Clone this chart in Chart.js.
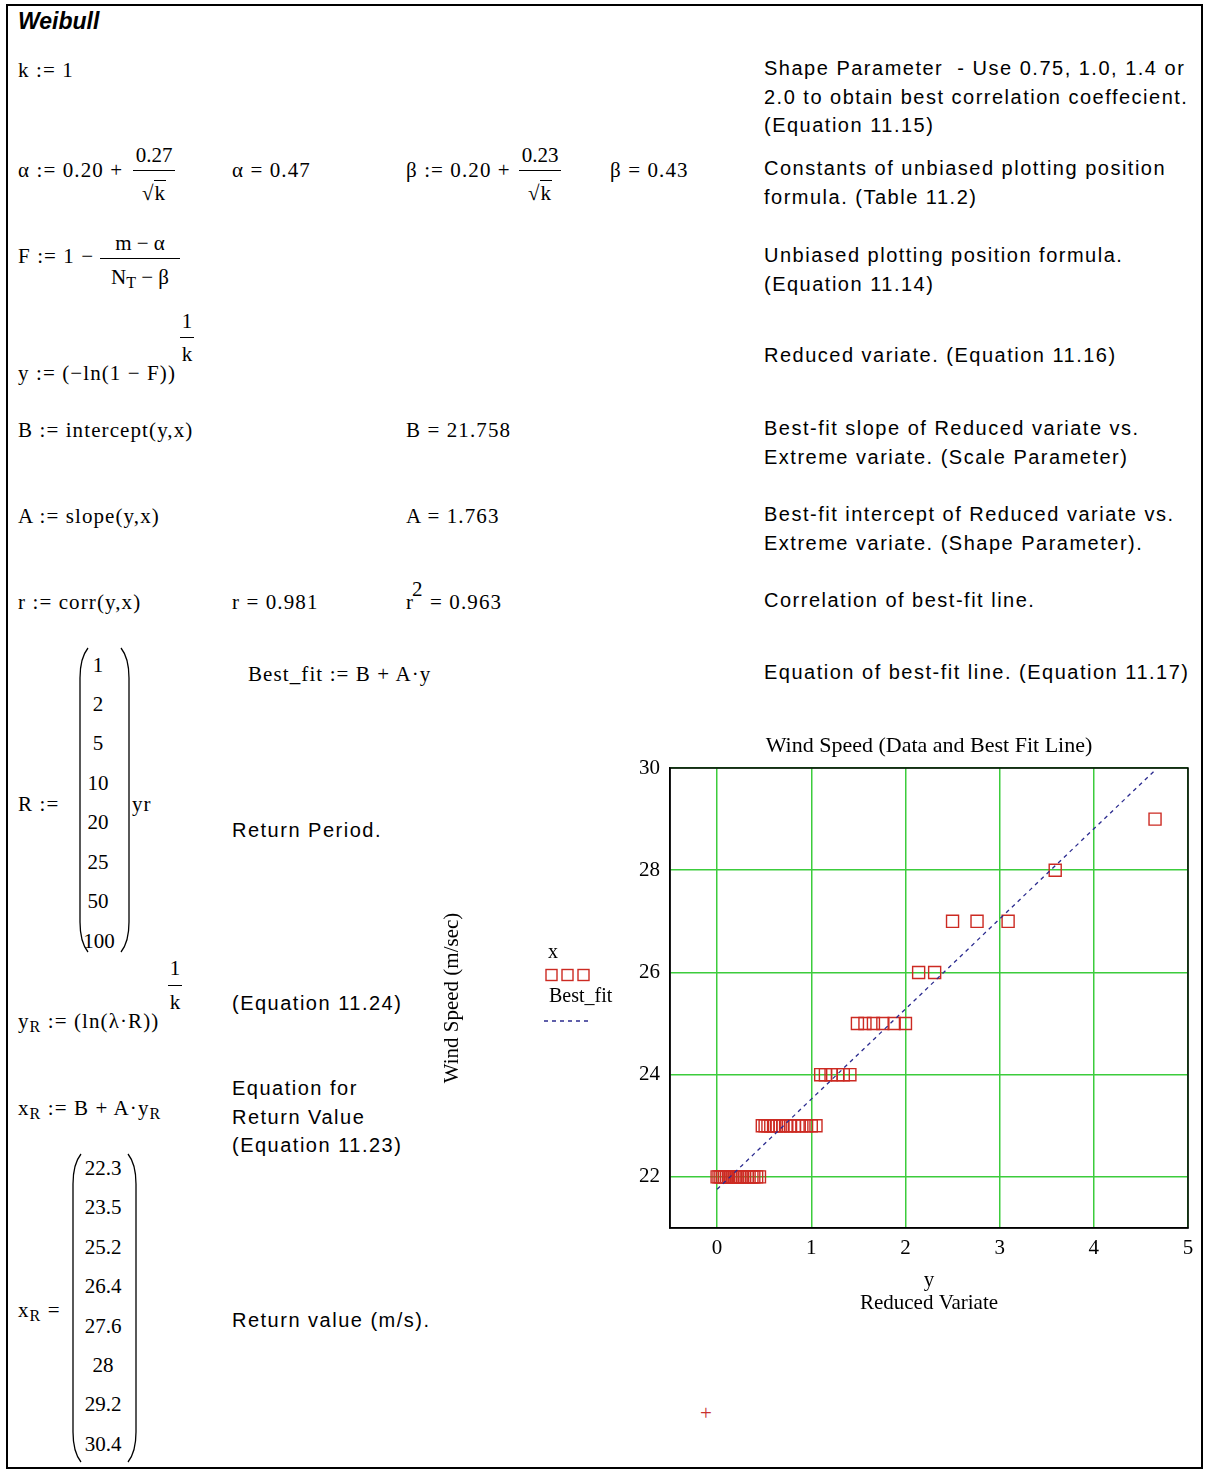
<!DOCTYPE html>
<html>
<head>
<meta charset="utf-8">
<title>Weibull</title>
<script src="https://cdn.jsdelivr.net/npm/chart.js@4.4.1/dist/chart.umd.min.js"></script>
<style>
  body { margin: 0; background: #fff; }
  #sheet { position: relative; width: 1207px; height: 1475px; overflow: hidden; background: #fff; }
  #frame { position: absolute; left: 6px; top: 4px; width: 1197px; height: 1465px; border: 2px solid #000; box-sizing: border-box; }
  .m { position: absolute; font-family: 'Liberation Serif', 'Times New Roman', serif; font-size: 21px; line-height: 24px; letter-spacing: 1.1px; white-space: nowrap; color: #000; }
  .t { position: absolute; font-family: 'Liberation Sans', Arial, sans-serif; font-size: 20px; line-height: 28.5px; letter-spacing: 1.5px; white-space: nowrap; color: #000; }
  .bar { position: absolute; height: 0; border-top: 1.3px solid #000; }
  .c { text-align: center; letter-spacing: 0; }
  .sub { font-size: 16px; position: relative; top: 4px; }
  .rad { border-top: 1.3px solid #000; padding: 0 1px; }
  #head { position: absolute; left: 18px; top: 8px; font-family: 'Liberation Sans', Arial, sans-serif; font-weight: bold; font-style: italic; font-size: 23px; }
  svg.paren { position: absolute; overflow: visible; }
  #plot { position: absolute; left: 430px; top: 725px; }
</style>
</head>
<body>
<div id="sheet">
  <div id="frame"></div>
  <div id="head">Weibull</div>

  <!-- worksheet definitions -->
  <div class="m" style="left:18px;top:58px">k := 1</div>

  <div class="m" style="left:18px;top:158px">α := 0.20 +</div>
  <div class="m c" style="left:132px;top:143px;width:44px">0.27</div>
  <div class="bar" style="left:133px;top:170px;width:42px"></div>
  <div class="m c" style="left:132px;top:181px;width:44px">√<span class="rad">k</span></div>
  <div class="m" style="left:232px;top:158px">α = 0.47</div>

  <div class="m" style="left:406px;top:158px">β := 0.20 +</div>
  <div class="m c" style="left:518px;top:143px;width:44px">0.23</div>
  <div class="bar" style="left:519px;top:170px;width:42px"></div>
  <div class="m c" style="left:518px;top:181px;width:44px">√<span class="rad">k</span></div>
  <div class="m" style="left:610px;top:158px">β = 0.43</div>

  <div class="m" style="left:18px;top:244px">F := 1 −</div>
  <div class="m c" style="left:100px;top:231px;width:80px">m − α</div>
  <div class="bar" style="left:100px;top:258px;width:80px"></div>
  <div class="m c" style="left:100px;top:265px;width:80px">N<span class="sub">T</span> − β</div>

  <div class="m" style="left:18px;top:361px">y := (−ln(1 − F))</div>
  <div class="m c" style="left:178px;top:309px;width:18px">1</div>
  <div class="bar" style="left:180px;top:337px;width:14px"></div>
  <div class="m c" style="left:178px;top:342px;width:18px">k</div>

  <div class="m" style="left:18px;top:418px">B := intercept(y,x)</div>
  <div class="m" style="left:406px;top:418px">B = 21.758</div>
  <div class="m" style="left:18px;top:504px">A := slope(y,x)</div>
  <div class="m" style="left:406px;top:504px">A = 1.763</div>
  <div class="m" style="left:18px;top:590px">r := corr(y,x)</div>
  <div class="m" style="left:232px;top:590px">r = 0.981</div>
  <div class="m" style="left:406px;top:590px">r<span style="position:relative;top:-13px;margin-left:-2px">2</span> = 0.963</div>

  <div class="m" style="left:248px;top:662px">Best_fit := B + A·y</div>

  <div class="m" style="left:18px;top:792px">R :=</div>
  <svg class="paren" style="left:79px;top:648px" width="10" height="304"><path d="M9 0 Q1 10 1 30 L1 274 Q1 294 9 304" fill="none" stroke="#000" stroke-width="1.3"/></svg>
  <svg class="paren" style="left:120px;top:648px" width="10" height="304"><path d="M1 0 Q9 10 9 30 L9 274 Q9 294 1 304" fill="none" stroke="#000" stroke-width="1.3"/></svg>
  <div class="m c" style="left:80px;top:653px;width:36px">1</div>
  <div class="m c" style="left:80px;top:692px;width:36px">2</div>
  <div class="m c" style="left:80px;top:731px;width:36px">5</div>
  <div class="m c" style="left:80px;top:771px;width:36px">10</div>
  <div class="m c" style="left:80px;top:810px;width:36px">20</div>
  <div class="m c" style="left:80px;top:850px;width:36px">25</div>
  <div class="m c" style="left:80px;top:889px;width:36px">50</div>
  <div class="m c" style="left:81px;top:929px;width:36px">100</div>
  <div class="m" style="left:132px;top:792px">yr</div>

  <div class="m" style="left:18px;top:1009px">y<span class="sub">R</span> := (ln(λ·R))</div>
  <div class="m c" style="left:166px;top:956px;width:18px">1</div>
  <div class="bar" style="left:168px;top:985px;width:14px"></div>
  <div class="m c" style="left:166px;top:990px;width:18px">k</div>

  <div class="m" style="left:18px;top:1096px">x<span class="sub">R</span> := B + A·y<span class="sub">R</span></div>

  <div class="m" style="left:18px;top:1298px">x<span class="sub">R</span> =</div>
  <svg class="paren" style="left:72px;top:1154px" width="10" height="308"><path d="M9 0 Q1 10 1 30 L1 278 Q1 298 9 308" fill="none" stroke="#000" stroke-width="1.3"/></svg>
  <svg class="paren" style="left:127px;top:1154px" width="10" height="308"><path d="M1 0 Q9 10 9 30 L9 278 Q9 298 1 308" fill="none" stroke="#000" stroke-width="1.3"/></svg>
  <div class="m c" style="left:80px;top:1156px;width:46px">22.3</div>
  <div class="m c" style="left:80px;top:1195px;width:46px">23.5</div>
  <div class="m c" style="left:80px;top:1235px;width:46px">25.2</div>
  <div class="m c" style="left:80px;top:1274px;width:46px">26.4</div>
  <div class="m c" style="left:80px;top:1314px;width:46px">27.6</div>
  <div class="m c" style="left:80px;top:1353px;width:46px">28</div>
  <div class="m c" style="left:80px;top:1392px;width:46px">29.2</div>
  <div class="m c" style="left:80px;top:1432px;width:46px">30.4</div>

  <!-- notes -->
  <div class="t" style="left:232px;top:816px">Return Period.</div>
  <div class="t" style="left:232px;top:989px">(Equation 11.24)</div>
  <div class="t" style="left:232px;top:1074px">Equation for<br>Return Value<br>(Equation 11.23)</div>
  <div class="t" style="left:232px;top:1306px">Return value (m/s).</div>

  <div class="t" style="left:764px;top:54px">Shape Parameter&nbsp; - Use 0.75, 1.0, 1.4 or<br>2.0 to obtain best correlation coeffecient.<br>(Equation 11.15)</div>
  <div class="t" style="left:764px;top:154px">Constants of unbiased plotting position<br>formula. (Table 11.2)</div>
  <div class="t" style="left:764px;top:241px">Unbiased plotting position formula.<br>(Equation 11.14)</div>
  <div class="t" style="left:764px;top:341px">Reduced variate. (Equation 11.16)</div>
  <div class="t" style="left:764px;top:414px">Best-fit slope of Reduced variate vs.<br>Extreme variate. (Scale Parameter)</div>
  <div class="t" style="left:764px;top:500px">Best-fit intercept of Reduced variate vs.<br>Extreme variate. (Shape Parameter).</div>
  <div class="t" style="left:764px;top:586px">Correlation of best-fit line.</div>
  <div class="t" style="left:764px;top:658px">Equation of best-fit line. (Equation 11.17)</div>

  <div class="m" style="left:700px;top:1401px;color:#c83030">+</div>

  <canvas id="plot" width="777" height="600"></canvas>
</div>

<script>
// Observed annual maxima (m/sec) and their reduced variates
const windSpeed = [
  22, 22, 22, 22, 22, 22, 22, 22, 22, 22, 22, 22, 22, 22, 22, 22, 22, 22, 22, 22, 22,
  23, 23, 23, 23, 23, 23, 23, 23, 23, 23, 23, 23, 23, 23, 23, 23,
  24, 24, 24, 24, 24, 24,
  25, 25, 25, 25, 25, 25,
  26, 26,
  27, 27, 27,
  28,
  29
];
const reducedVariate = [
  0.00, 0.02, 0.04, 0.06, 0.08, 0.10, 0.12, 0.14, 0.16, 0.18, 0.20, 0.22, 0.24, 0.27, 0.29, 0.32, 0.34, 0.37, 0.39, 0.42, 0.45,
  0.48, 0.51, 0.54, 0.57, 0.60, 0.63, 0.67, 0.70, 0.74, 0.78, 0.82, 0.86, 0.90, 0.95, 1.00, 1.05,
  1.10, 1.15, 1.21, 1.28, 1.34, 1.41,
  1.49, 1.57, 1.66, 1.76, 1.88, 2.00,
  2.14, 2.31,
  2.50, 2.76, 3.09,
  3.59,
  4.65
];

// Fit coefficients (Best_fit := B + A·y)
const interceptB = 21.758;
const slopeA = 1.763;

const xTickValues = [0, 1, 2, 3, 4, 5];
const yTickValues = [22, 24, 26, 28, 30];

const serif = "'Liberation Serif', 'Times New Roman', serif";
const gridGreen = '#3ccc3c';

// Closed frame round the plot plus the little key to its left
const frameAndKey = {
  id: 'frameAndKey',
  afterDraw(chart) {
    const { ctx, chartArea: a } = chart;
    const fit = chart.data.datasets[0];
    const pts = chart.data.datasets[1];
    ctx.save();
    ctx.strokeStyle = '#000';
    ctx.lineWidth = 1.5;
    ctx.strokeRect(a.left, a.top, a.right - a.left, a.bottom - a.top);

    const kx = a.left - 122;
    ctx.fillStyle = '#000';
    ctx.font = '20px ' + serif;
    ctx.textAlign = 'left';
    ctx.textBaseline = 'middle';
    ctx.fillText(pts.label, kx, a.top + 185);

    ctx.strokeStyle = pts.borderColor;
    ctx.lineWidth = 1.4;
    for (let i = 0; i < 3; i++) {
      ctx.strokeRect(kx - 2 + i * 16, a.top + 201.5, 11, 11);
    }

    ctx.fillStyle = '#000';
    ctx.fillText(fit.label, kx + 1, a.top + 229);

    ctx.strokeStyle = fit.borderColor;
    ctx.lineWidth = fit.borderWidth;
    ctx.setLineDash(fit.borderDash);
    ctx.beginPath();
    ctx.moveTo(kx - 4, a.top + 253);
    ctx.lineTo(kx + 42, a.top + 253);
    ctx.stroke();
    ctx.restore();
  }
};

new Chart(document.getElementById('plot'), {
  type: 'scatter',
  data: {
    datasets: [
      {
        label: 'Best_fit',
        data: reducedVariate.map(v => ({ x: v, y: interceptB + slopeA * v })),
        showLine: true,
        borderColor: '#2b2b8f',
        borderWidth: 1.3,
        borderDash: [4, 4],
        pointRadius: 0,
        order: 0
      },
      {
        label: 'x',
        data: reducedVariate.map((v, i) => ({ x: v, y: windSpeed[i] })),
        showLine: false,
        pointStyle: 'rect',
        pointRadius: 8.5,
        pointBorderWidth: 1.4,
        borderColor: '#cc2a22',
        backgroundColor: 'rgba(0,0,0,0)',
        order: 1
      }
    ]
  },
  options: {
    responsive: false,
    animation: false,
    events: [],
    layout: { padding: { left: 0, right: 19, top: 0, bottom: 0 } },
    plugins: {
      legend: { display: false },
      tooltip: { enabled: false },
      title: {
        display: true,
        fullSize: false,
        text: 'Wind Speed (Data and Best Fit Line)',
        color: '#000',
        font: { family: serif, size: 22, weight: 'normal', lineHeight: 1.2 },
        padding: { top: 8, bottom: 8.6 }
      }
    },
    scales: {
      x: {
        type: 'linear',
        min: -0.5,
        max: 5,
        afterBuildTicks: s => { s.ticks = xTickValues.map(v => ({ value: v })); },
        afterFit: s => { s.height = 97; },
        grid: { color: gridGreen, lineWidth: 1.5, drawTicks: false },
        border: { color: '#000', width: 1.5 },
        ticks: { color: '#000', padding: 8, font: { family: serif, size: 21 } },
        title: {
          display: true,
          text: ['y', 'Reduced Variate'],
          color: '#000',
          font: { family: serif, size: 21, lineHeight: 1.1 },
          padding: { top: 0, bottom: 9.5 }
        }
      },
      y: {
        type: 'linear',
        min: 21,
        max: 30,
        afterBuildTicks: s => { s.ticks = yTickValues.map(v => ({ value: v })); },
        afterFit: s => { s.width = 240; },
        grid: { color: gridGreen, lineWidth: 1.5, drawTicks: false },
        border: { color: '#000', width: 1.5 },
        ticks: { color: '#000', padding: 10, font: { family: serif, size: 21 } },
        title: {
          display: true,
          text: 'Wind Speed (m/sec)',
          color: '#000',
          font: { family: serif, size: 21, lineHeight: 1.2 },
          padding: { top: 9.4, bottom: 0 }
        }
      }
    }
  },
  plugins: [frameAndKey]
});
</script>
</body>
</html>
